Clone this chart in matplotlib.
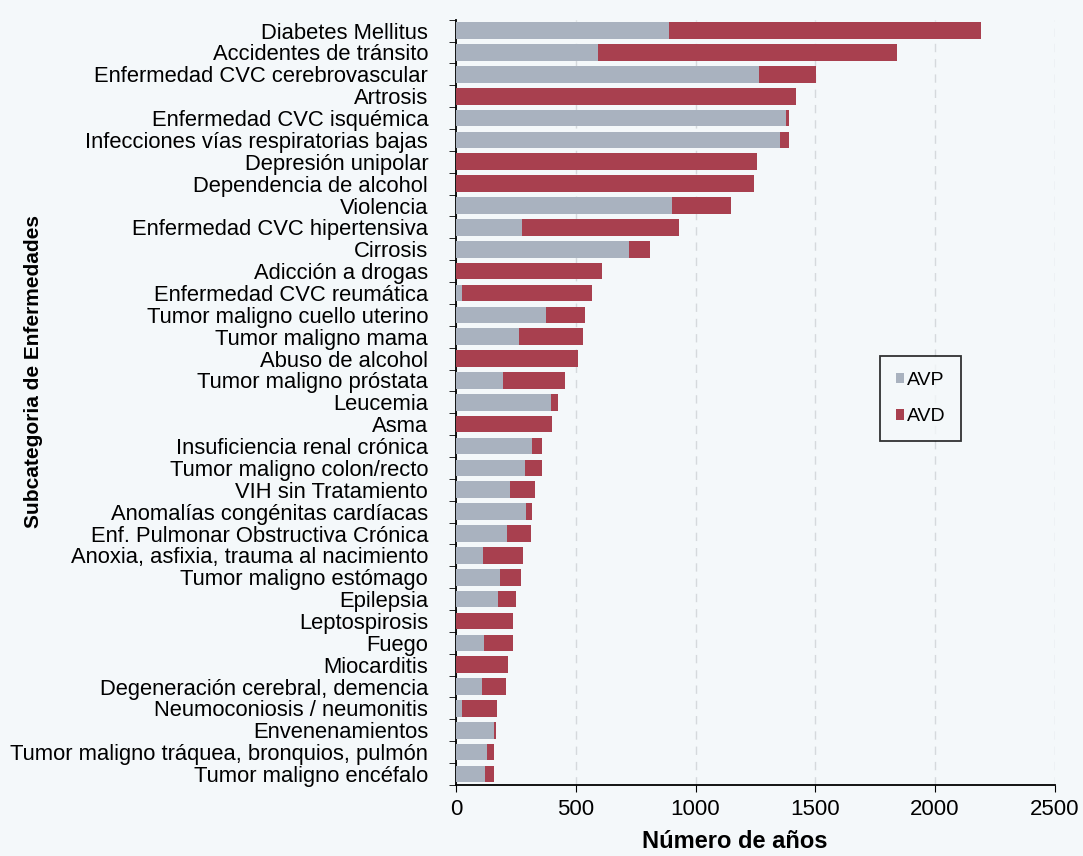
import numpy as np
import matplotlib.pyplot as plt

plt.rcParams['font.family'] = ['Liberation Sans', 'DejaVu Sans']

# categories from top to bottom
categorias = [
    'Diabetes Mellitus', 'Accidentes de tránsito', 'Enfermedad CVC cerebrovascular',
    'Artrosis', 'Enfermedad CVC isquémica', 'Infecciones vías respiratorias bajas',
    'Depresión unipolar', 'Dependencia de alcohol', 'Violencia',
    'Enfermedad CVC hipertensiva', 'Cirrosis', 'Adicción a drogas',
    'Enfermedad CVC reumática', 'Tumor maligno cuello uterino', 'Tumor maligno mama',
    'Abuso de alcohol', 'Tumor maligno próstata', 'Leucemia', 'Asma',
    'Insuficiencia renal crónica', 'Tumor maligno colon/recto', 'VIH sin Tratamiento',
    'Anomalías congénitas cardíacas', 'Enf. Pulmonar Obstructiva Crónica',
    'Anoxia, asfixia, trauma al nacimiento', 'Tumor maligno estómago', 'Epilepsia',
    'Leptospirosis', 'Fuego', 'Miocarditis', 'Degeneración cerebral, demencia',
    'Neumoconiosis / neumonitis', 'Envenenamientos',
    'Tumor maligno tráquea, bronquios, pulmón', 'Tumor maligno encéfalo',
]

avp = [890, 595, 1267, 0, 1378, 1354, 0, 0, 900, 275, 723, 0,
       25, 377, 264, 0, 197, 396, 0, 316, 288, 225, 293, 214,
       115, 185, 177, 0, 119, 0, 107, 27, 158, 131, 123]
total = [2190, 1840, 1505, 1418, 1392, 1392, 1255, 1246, 1148, 932, 811, 609,
         566, 539, 531, 510, 456, 427, 400, 361, 361, 328, 317, 312,
         282, 272, 251, 237, 237, 217, 209, 171, 169, 158, 158]

avp = np.array(avp)
avd = np.array(total) - avp

fig = plt.figure(figsize=(10.83, 8.56), dpi=100)
fig.patch.set_facecolor('#f4f8fa')
ax = fig.add_axes([0.421, 0.083, 0.553, 0.894])
ax.set_facecolor('#f4f8fa')

y = np.arange(len(categorias))
ax.barh(y, avp, height=0.76, color='#a9b2bf', label='AVP', zorder=3)
ax.barh(y, avd, left=avp, height=0.76, color='#a8404f', label='AVD', zorder=3)

ax.set_ylim(len(categorias) - 0.5, -0.5)
ax.set_xlim(0, 2500)
ax.set_xticks([0, 500, 1000, 1500, 2000, 2500])
ax.set_yticks(y)
ax.set_yticklabels(categorias, fontsize=15.8)
ax.set_yticks(np.arange(len(categorias) + 1) - 0.5, minor=True)
ax.tick_params(axis='y', which='major', length=0, pad=20)
ax.tick_params(axis='y', which='minor', length=5, direction='out')
ax.tick_params(axis='x', labelsize=16, length=5, pad=5)

ax.xaxis.grid(True, linestyle=(0, (6, 5)), color='#d5d9dc', linewidth=1, zorder=0)
for s in ['top', 'right']:
    ax.spines[s].set_visible(False)
ax.spines['left'].set_linewidth(1.3)
ax.spines['bottom'].set_linewidth(1.3)

ax.set_xlabel('Número de años', fontsize=17, fontweight='bold')
ax.xaxis.set_label_coords(0.466, -0.059)
ax.set_ylabel('Subcategoria de Enfermedades', fontsize=15, fontweight='bold')
ax.yaxis.set_label_coords(-0.69, 0.54)

leg = ax.legend(loc='upper left', bbox_to_anchor=(0.708, 0.56), fontsize=14,
                frameon=True, fancybox=False, edgecolor='black',
                handlelength=0.45, handleheight=0.45, handletextpad=0.15,
                labelspacing=1.0, borderpad=0.8, borderaxespad=0)
leg.get_frame().set_linewidth(1.3)
leg.get_frame().set_facecolor('#f4f8fa')

fig.savefig('out.png', dpi=100, facecolor=fig.get_facecolor())
